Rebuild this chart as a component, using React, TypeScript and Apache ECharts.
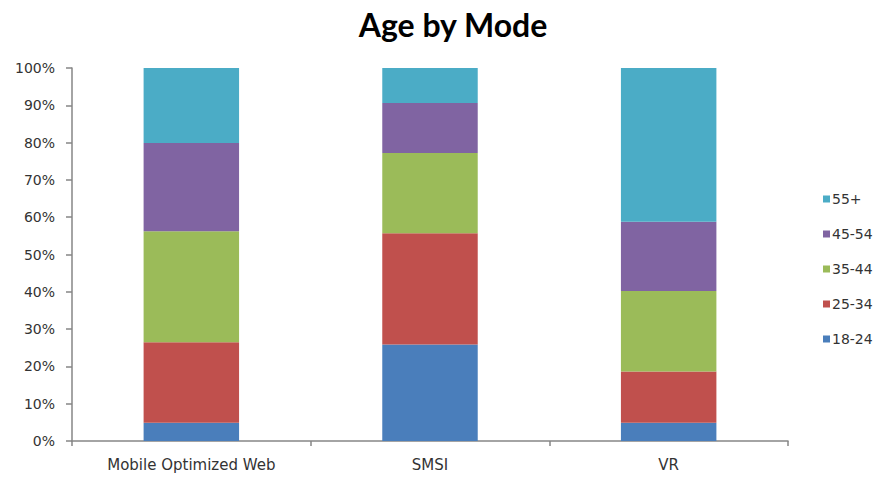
import React, { useEffect, useRef } from "react";
import * as echarts from "echarts";

const categories = ["Mobile Optimized Web", "SMSI", "VR"];
const seriesNames = ["18-24", "25-34", "35-44", "45-54", "55+"];
const age18_24 = [4.9, 25.9, 4.9];
const age25_34 = [21.6, 29.8, 13.7];
const age35_44 = [29.7, 21.5, 21.6];
const age45_54 = [23.7, 13.4, 18.6];
const age55plus = [20.1, 9.4, 41.2];
const colors = ["#4A7EBB", "#C0504D", "#9BBB59", "#8064A2", "#4BACC6"];

export default function App() {
  const ref = useRef<HTMLDivElement>(null);
  useEffect(() => {
    if (!ref.current) return;
    const chart = echarts.init(ref.current, undefined, { renderer: "svg" });
    const values = [age18_24, age25_34, age35_44, age45_54, age55plus];
    chart.setOption({
      animation: false,
      title: {
        text: "Age by Mode",
        left: 448,
        textAlign: "center",
        top: 3,
        textStyle: { fontFamily: "Lato", fontWeight: "bold", fontSize: 32, color: "#000" },
      },
      legend: {
        orient: "vertical",
        left: 818,
        top: 187,
        itemWidth: 7,
        itemHeight: 7,
        itemGap: 21,
        icon: "rect",
        data: [...seriesNames].reverse(),
        textStyle: { fontFamily: "DejaVu Sans", fontSize: 14, color: "#333", padding: [0, 0, 0, -3], lineHeight: 14 },
      },
      grid: { left: 72, right: 93, top: 68, bottom: 44 },
      xAxis: {
        type: "category",
        data: categories,
        axisLine: { lineStyle: { color: "#868686", width: 1.5 } },
        axisTick: { show: true, length: 5, lineStyle: { color: "#868686", width: 1.5 } },
        axisLabel: { fontFamily: "DejaVu Sans", fontSize: 15, color: "#333", margin: 16 },
      },
      yAxis: {
        type: "value",
        min: 0,
        max: 100,
        interval: 10,
        splitLine: { show: false },
        axisLine: { show: true, lineStyle: { color: "#868686", width: 1.5 } },
        axisTick: { show: true, length: 6, lineStyle: { color: "#868686", width: 1.5 } },
        axisLabel: { formatter: "{value}%", fontFamily: "DejaVu Sans", fontSize: 14, color: "#333", margin: 17 },
      },
      series: seriesNames.map((name, i) => ({
        name,
        type: "bar",
        stack: "total",
        barWidth: "40%",
        data: values[i],
        itemStyle: { color: colors[i] },
      })),
    });
    return () => chart.dispose();
  }, []);
  return <div ref={ref} style={{ width: 881, height: 485, position: "absolute", left: 0, top: 0 }} />;
}
